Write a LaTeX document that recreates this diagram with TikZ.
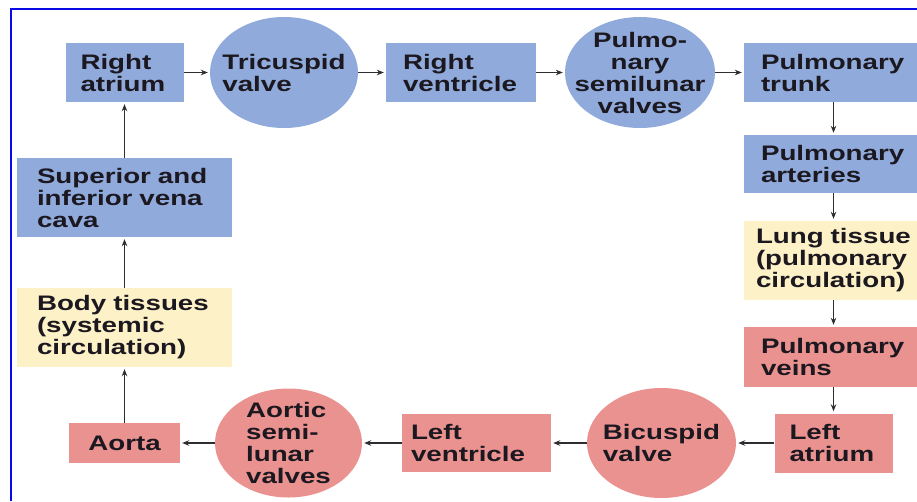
\documentclass[tikz,border=0pt]{standalone}
\usepackage{fontspec}
\newfontfamily\boxfont{Liberation Sans}[FakeStretch=1.32]
\usetikzlibrary{arrows.meta,shapes.geometric}
\definecolor{veinBlue}{RGB}{143,170,219}
\definecolor{arteryRed}{RGB}{234,146,144}
\definecolor{tissueYellow}{RGB}{253,241,200}
\definecolor{frameBlue}{RGB}{10,10,230}
\definecolor{flowGray}{RGB}{45,45,50}
\definecolor{textDark}{RGB}{28,24,32}

\begin{document}
\begin{tikzpicture}[x=1pt, y=-1pt,
    every node/.style={font=\boxfont\bfseries\fontsize{21}{22}\selectfont, text=textDark},
    stage/.style={rectangle, inner xsep=15pt, inner ysep=0pt, align=left},
    blueStage/.style={stage, fill=veinBlue},
    redStage/.style={stage, fill=arteryRed},
    tissueStage/.style={stage, fill=tissueYellow},
    valve/.style={ellipse, inner sep=0pt},
    valveText/.style={align=left, inner sep=0pt},
    flow/.style={-{Stealth[length=7pt, width=5.5pt]}, line width=1.8pt, flowGray, shorten >=2pt}]

\useasboundingbox (0,0) rectangle (917,501);

% Frame
\draw[frameBlue, line width=2pt] (11,501) -- (11,9) -- (917,9);

% Top row (right heart)
\node[blueStage, text width=88pt, minimum height=59pt] (ra) at (124.5,72.5) {Right\\atrium};
\node[valve, fill=veinBlue, minimum width=148pt, minimum height=111pt,
      label={[valveText]center:Tricuspid\\valve}] (tv) at (284,72.5) {};
\node[blueStage, inner xsep=17pt, text width=116pt, minimum height=59pt] (rv) at (461,72.5) {Right\\ventricle};
\node[valve, fill=veinBlue, minimum width=150pt, minimum height=111pt,
      label={[valveText, align=center]center:Pulmo-\\nary\\semilunar\\valves}] (psv) at (640,72.5) {};
\node[blueStage, inner xsep=17pt, text width=145pt, minimum height=59pt] (pt) at (833.5,72.5) {Pulmonary\\trunk};

% Right column (lungs)
\node[blueStage, inner xsep=17pt, text width=145pt, minimum height=58pt] (pa) at (833.5,164) {Pulmonary\\arteries};
\node[tissueStage, inner xsep=12pt, text width=155pt, minimum height=79pt] (lt) at (833.5,260.5) {Lung tissue\\(pulmonary\\circulation)};
\node[redStage, inner xsep=17pt, text width=145pt, minimum height=60pt] (pv) at (833.5,357) {Pulmonary\\veins};

% Bottom row (left heart)
\node[redStage, text width=88pt, minimum height=59pt] (la) at (833.5,443) {Left\\atrium};
\node[valve, fill=arteryRed, minimum width=149pt, minimum height=110pt,
      label={[valveText]center:Bicuspid\\valve}] (bv) at (661.5,443) {};
\node[redStage, inner xsep=9pt, text width=131pt, minimum height=58pt] (lv) at (476.5,443) {Left\\ventricle};
\node[valve, fill=arteryRed, minimum width=147pt, minimum height=109pt,
      label={[valveText]center:Aortic\\semi-\\lunar\\valves}] (asv) at (288.5,443) {};
\node[redStage, align=center, text width=81pt, minimum height=40pt] (ao) at (124.5,443) {Aorta};

% Left column (body)
\node[tissueStage, inner xsep=20pt, text width=175pt, minimum height=79pt] (bt) at (124.5,327.5) {Body tissues\\(systemic\\circulation)};
\node[blueStage, inner xsep=20pt, text width=175pt, minimum height=79pt] (vc) at (124.5,197.5) {Superior and\\inferior vena\\cava};

% Blood flow
\draw[flow] (ra.east) -- (tv.west);
\draw[flow] (tv.east) -- (rv.west);
\draw[flow] (rv.east) -- (psv.west);
\draw[flow] (psv.east) -- (pt.west);
\draw[flow] (pt) -- (pa);
\draw[flow] (pa) -- (lt);
\draw[flow] (lt) -- (pv);
\draw[flow] (pv) -- (la);
\draw[flow] (la.west) -- (bv.east);
\draw[flow] (bv.west) -- (lv.east);
\draw[flow] (lv.west) -- (asv.east);
\draw[flow] (asv.west) -- (ao.east);
\draw[flow] (ao) -- (bt);
\draw[flow] (bt) -- (vc);
\draw[flow] (vc) -- (ra);

\end{tikzpicture}
\end{document}
